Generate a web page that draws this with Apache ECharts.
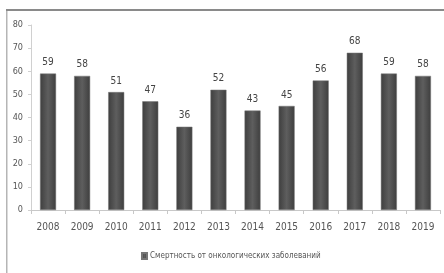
<!DOCTYPE html>
<html>
<head>
    <meta charset="utf-8">
    <title>Смертность от онкологических заболеваний</title>
    <script src="https://cdn.jsdelivr.net/npm/echarts@6/dist/echarts.min.js"></script>
    <style>
        html, body { margin: 0; padding: 0; background: #fff; }
        #chart1 { width: 444px; height: 273px; }
    </style>
</head>
<body>
<div id="chart1"></div>
<script type="text/javascript">
    // годы и значения
    var years = ['2008', '2009', '2010', '2011', '2012', '2013', '2014', '2015', '2016', '2017', '2018', '2019'];
    var deaths = [59, 58, 51, 47, 36, 52, 43, 45, 56, 68, 59, 58];
    var yTicks = [0, 10, 20, 30, 40, 50, 60, 70, 80];
    var seriesName = 'Смертность от онкологических заболеваний';

    var font = '"Liberation Sans Narrow", "DejaVu Sans Condensed", "Liberation Sans", sans-serif';

    var chart = echarts.init(document.getElementById('chart1'));
    chart.setOption({
        animation: false,
        textStyle: { fontFamily: font },
        // рамка скриншота
        graphic: [
            { type: 'rect', shape: { x: 6, y: 9, width: 440, height: 2 }, style: { fill: '#8a8a8a' } },
            { type: 'rect', shape: { x: 6, y: 11, width: 1.5, height: 262 }, style: { fill: '#b5b5b5' } }
        ],
        legend: {
            data: [seriesName],
            bottom: 8,
            left: 136,
            itemWidth: 5,
            itemHeight: 6,
            itemGap: 2,
            icon: 'rect',
            textStyle: { fontSize: 8, color: '#555', fontFamily: font, padding: [0, 0, 0, -2] }
        },
        grid: { left: 31, right: 4, top: 25, bottom: 63 },
        xAxis: {
            type: 'category',
            data: years,
            axisLine: { lineStyle: { color: '#c8c8c8' } },
            axisTick: { show: true, length: 4, lineStyle: { color: '#c8c8c8' } },
            axisLabel: { fontSize: 10, color: '#555', margin: 12, fontFamily: font }
        },
        yAxis: {
            type: 'value',
            min: yTicks[0],
            max: yTicks[yTicks.length - 1],
            interval: 10,
            axisLine: { show: true, lineStyle: { color: '#d0d0d0' } },
            axisTick: { show: true, length: 3, lineStyle: { color: '#d0d0d0' } },
            splitLine: { show: false },
            axisLabel: { fontSize: 9, color: '#555', margin: 8, fontFamily: font }
        },
        series: [{
            name: seriesName,
            type: 'bar',
            data: deaths,
            barWidth: 16,
            itemStyle: {
                color: new echarts.graphic.LinearGradient(0, 0, 1, 0, [
                    { offset: 0, color: '#3e3e3e' },
                    { offset: 0.5, color: '#5e5e5e' },
                    { offset: 1, color: '#3e3e3e' }
                ]),
                borderColor: '#777',
                borderWidth: 0.5
            },
            label: {
                show: true,
                position: 'top',
                distance: 6,
                fontSize: 10,
                color: '#444',
                fontFamily: font
            }
        }]
    });
</script>
</body>
</html>
